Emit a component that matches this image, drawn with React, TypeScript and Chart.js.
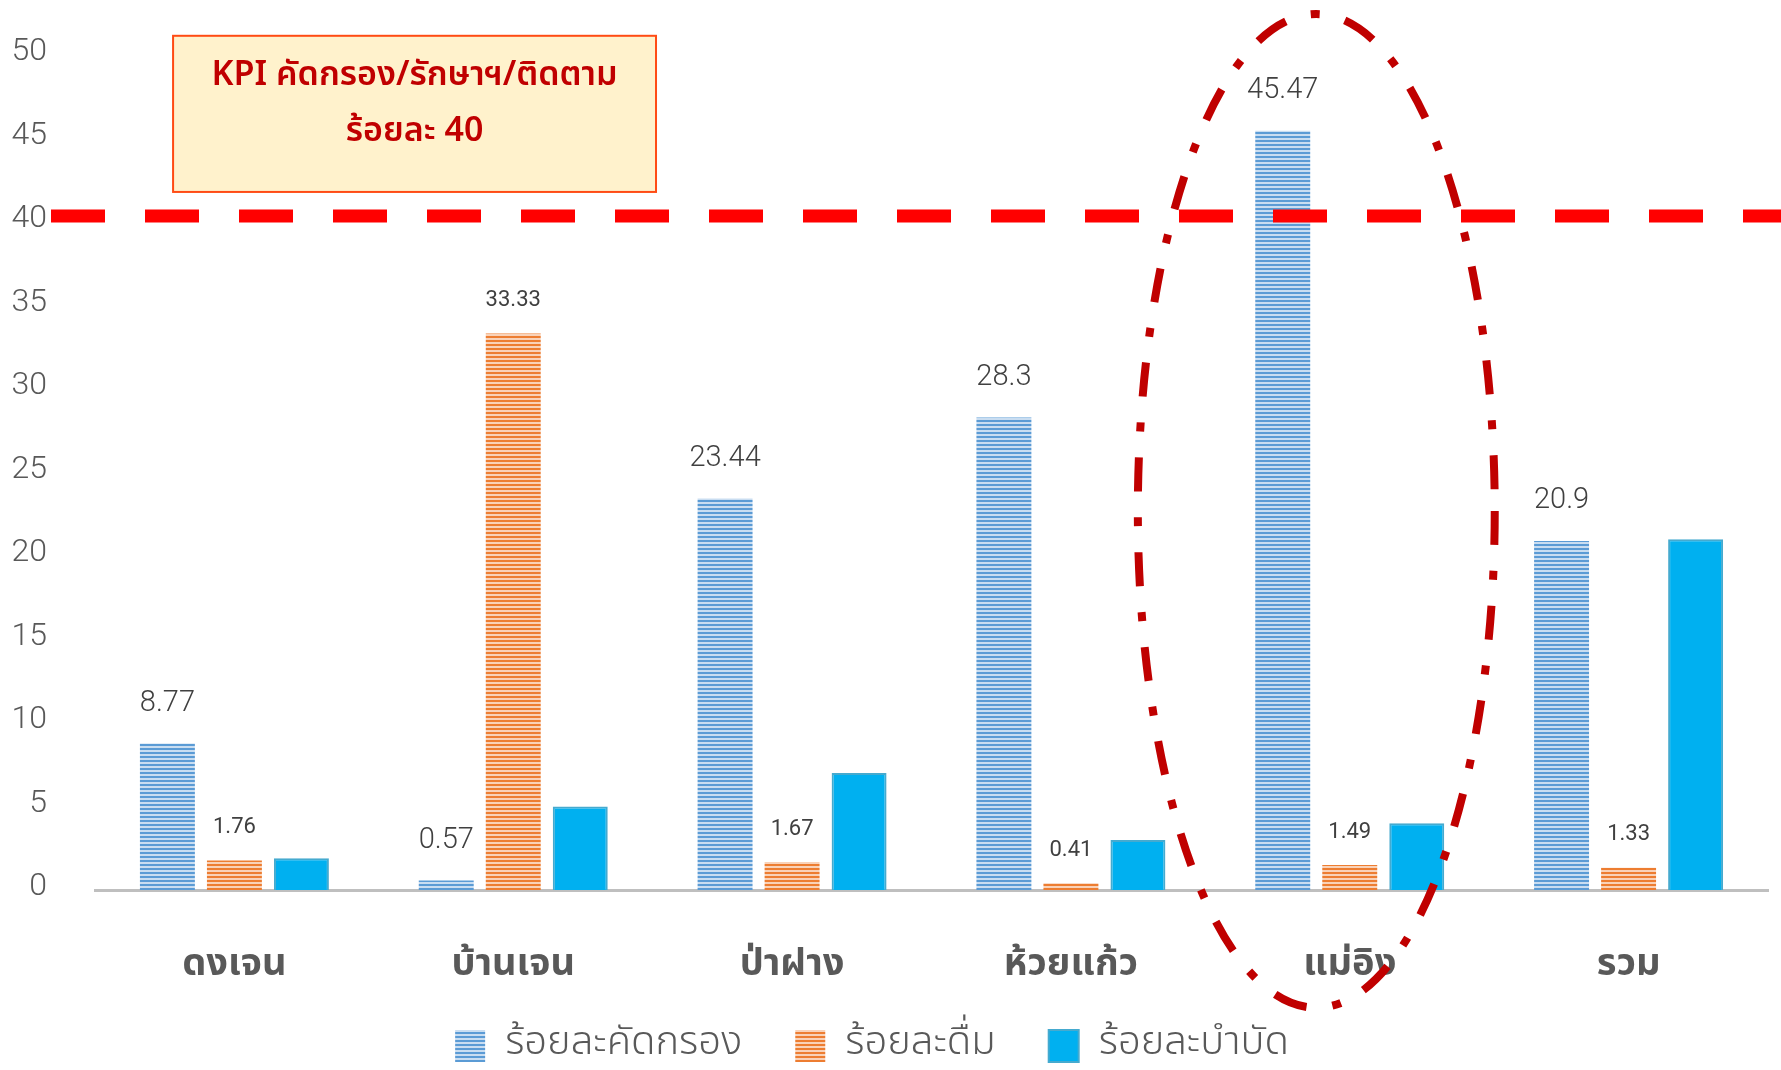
import React, { useEffect, useRef } from 'react';
import { Chart, registerables } from 'chart.js';

Chart.register(...registerables);

// ---------------- data ----------------
const categories = ['ดงเจน', 'บ้านเจน', 'ป่าฝาง', 'ห้วยแก้ว', 'แม่อิง', 'รวม'];
const seriesNames = ['ร้อยละคัดกรอง', 'ร้อยละดื่ม', 'ร้อยละบำบัด'];
const screeningRate = [8.77, 0.57, 23.44, 28.3, 45.47, 20.9];
const drinkingRate = [1.76, 33.33, 1.67, 0.41, 1.49, 1.33];
const treatmentRate = [1.9, 5.0, 7.0, 3.0, 4.0, 21.0];
const yMin = 0;
const yMax = 50;
const yStep = 5;
const kpiTarget = 40;
const kpiText = ['KPI คัดกรอง/รักษาฯ/ติดตาม', 'ร้อยละ 40'];
const highlightIndex = 4; // แม่อิง

// ---------------- styles ----------------
const THAI = '"Noto Sans Thai", "Noto Sans Thai UI", "Noto Sans", sans-serif';
const NUM = 'Roboto, "Noto Sans", sans-serif';
const GRAY = '#595959';
const LABEL = '#404040';

function stripePattern(ctx: CanvasRenderingContext2D, dark: string, light: string) {
  const c = document.createElement('canvas');
  c.width = 4;
  c.height = 4;
  const g = c.getContext('2d')!;
  g.fillStyle = light;
  g.fillRect(0, 0, 4, 4);
  g.fillStyle = dark;
  g.fillRect(0, 0, 4, 2);
  return ctx.createPattern(c, 'repeat')!;
}

const overlayPlugin = {
  id: 'overlay',
  afterLayout(chart: any) {
    const lg = chart.legend;
    if (lg) {
      const dx = -12;
      const dy = -32;
      lg.left += dx;
      lg.right += dx;
      lg.top += dy;
      lg.bottom = chart.height;
      lg.height = lg.bottom - lg.top;
    }
  },
  afterDatasetsDraw(chart: any) {
    const { ctx } = chart;
    const y = chart.scales.y;
    // data labels
    const labelDefs = [
      { d: 0, values: screeningRate, font: `300 29px ${NUM}`, off: 40 },
      { d: 1, values: drinkingRate, font: `400 22px ${NUM}`, off: 33 },
    ];
    ctx.save();
    ctx.fillStyle = LABEL;
    ctx.textAlign = 'center';
    ctx.textBaseline = 'middle';
    labelDefs.forEach((def) => {
      ctx.font = def.font;
      chart.getDatasetMeta(def.d).data.forEach((bar: any, i: number) => {
        ctx.fillText(String(def.values[i]), bar.x, bar.y - def.off);
      });
    });
    ctx.restore();

    // KPI dashed line
    const ly = y.getPixelForValue(kpiTarget) - 6;
    ctx.save();
    ctx.strokeStyle = '#FF0000';
    ctx.lineWidth = 13;
    ctx.setLineDash([54, 40]);
    ctx.beginPath();
    ctx.moveTo(chart.chartArea.left - 44, ly);
    ctx.lineTo(chart.width, ly);
    ctx.stroke();
    ctx.restore();
  },
  afterDraw(chart: any) {
    const { ctx } = chart;
    const x = chart.scales.x;
    const y = chart.scales.y;
    const x0 = x.getPixelForValue(0);
    const cw = x.getPixelForValue(1) - x0;
    const px = (idx: number) => x0 + idx * cw;

    // KPI box
    const bl = px(-0.22);
    const br = px(1.512);
    const bt = y.getPixelForValue(51.15);
    const bb = y.getPixelForValue(41.8);
    ctx.save();
    ctx.fillStyle = '#FFF2CC';
    ctx.fillRect(bl, bt, br - bl, bb - bt);
    ctx.strokeStyle = '#FF4B14';
    ctx.lineWidth = 2;
    ctx.strokeRect(bl, bt, br - bl, bb - bt);
    ctx.fillStyle = '#C00000';
    ctx.font = `600 34px ${THAI}`;
    ctx.textAlign = 'center';
    ctx.textBaseline = 'middle';
    const cx = (bl + br) / 2;
    ctx.fillText(kpiText[0], cx, bt + 42);
    ctx.fillText(kpiText[1], cx, bt + 98);
    ctx.restore();

    // highlight ellipse
    const ex = px(highlightIndex - 0.12);
    const ey = y.getPixelForValue(22.7);
    const rx = 0.64 * cw;
    const ry = y.getPixelForValue(0) - y.getPixelForValue(29.75);
    ctx.save();
    ctx.strokeStyle = '#C00000';
    ctx.lineWidth = 8;
    ctx.setLineDash([34, 26, 9, 26]);
    ctx.beginPath();
    ctx.ellipse(ex, ey, rx, ry, 0, 0, Math.PI * 2);
    ctx.stroke();
    ctx.restore();
  },
};

export default function App() {
  const canvasRef = useRef<HTMLCanvasElement | null>(null);

  useEffect(() => {
    document.body.style.margin = '0';
    const canvas = canvasRef.current!;
    const ctx = canvas.getContext('2d')!;
    const bluePattern = stripePattern(ctx, '#5B9BD5', '#C9DDF1');
    const orangePattern = stripePattern(ctx, '#ED7D31', '#F9D2B8');

    const chart = new Chart(canvas, {
      type: 'bar',
      data: {
        labels: categories,
        datasets: [
          {
            label: seriesNames[0],
            data: screeningRate,
            backgroundColor: bluePattern,
            borderWidth: 0,
          },
          {
            label: seriesNames[1],
            data: drinkingRate,
            backgroundColor: orangePattern,
            borderWidth: 0,
          },
          {
            label: seriesNames[2],
            data: treatmentRate,
            backgroundColor: '#00B0F0',
            borderColor: '#45AACF',
            borderWidth: 2,
            borderSkipped: 'bottom',
          },
        ] as any,
      },
      options: {
        responsive: false,
        animation: false,
        devicePixelRatio: 1,
        categoryPercentage: 0.721,
        barPercentage: 0.82,
        layout: { padding: { top: 55, left: 0, right: 13, bottom: 5 } },
        plugins: {
          tooltip: { enabled: false },
          legend: {
            position: 'bottom',
            maxHeight: 60,
            labels: {
              boxWidth: 30,
              boxHeight: 32,
              padding: 53,
              color: GRAY,
              font: { family: THAI, size: 40, weight: 300 },
            },
          },
        },
        scales: {
          x: {
            grid: { display: false, drawTicks: false },
            border: { display: true, color: '#BFBFBF', width: 3 },
            ticks: {
              padding: 55,
              color: GRAY,
              font: { family: THAI, size: 38, weight: 'bold' },
            },
            afterFit: (s: any) => {
              s.height = 115;
            },
          },
          y: {
            min: yMin,
            max: yMax,
            grid: { display: false, drawTicks: true, tickLength: 48 },
            border: { display: false },
            ticks: {
              stepSize: yStep,
              padding: 0,
              labelOffset: -3,
              color: GRAY,
              font: { family: NUM, size: 32, weight: 300 },
            },
            afterFit: (s: any) => {
              s.width = 95;
            },
          },
        },
      } as any,
      plugins: [overlayPlugin],
    });
    return () => chart.destroy();
  }, []);

  return (
    <div style={{ width: 1781, height: 1070, position: 'relative', background: '#fff' }}>
      <canvas ref={canvasRef} width={1781} height={1070} style={{ display: 'block', width: 1781, height: 1070 }} />
    </div>
  );
}
